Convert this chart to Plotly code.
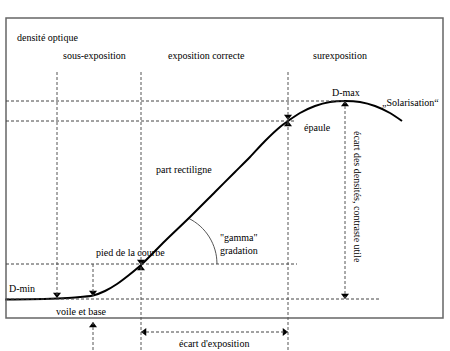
import plotly.graph_objects as go

# Characteristic curve (exposure -> optical density), diagram units
curve_x = [5, 30, 57, 75, 93, 105, 117, 129, 141, 165, 190, 215, 235, 250, 265, 280, 288, 300, 315, 330, 345, 360, 375, 390, 402]
curve_y = [299.5, 299.3, 298.5, 297.5, 295.5, 291, 284, 275, 265, 241, 217, 192, 172, 157, 141, 127, 121, 113, 106, 102, 101, 102, 106, 113, 121]

# Reference levels
frame = dict(x0=6, y0=18, x1=443, y1=318)
h_lines = [  # (y, x_start, x_end)
    (101, 6, 345),
    (121, 6, 296),
    (264, 6, 297),
    (299, 6, 380),
    (332, 141, 288),
]
v_lines = [  # (x, y_start, y_end)
    (57, 72, 298),
    (93, 264, 296),
    (93, 322, 351),
    (141, 72, 351),
    (288, 72, 351),
    (345, 101, 299),
]
# arrow tips: (x, y, direction)
arrows = [
    (57, 298, "down"), (93, 296, "down"), (93, 322, "up"),
    (141, 265, "down"), (141, 265, "up"),
    (288, 120, "down"), (288, 121, "up"),
    (345, 101, "up"), (345, 299, "down"),
    (141, 332, "left"), (288, 332, "right"),
]
# gamma arc
arc_center = (166, 264)
arc_radius = 51
arc_angles = [0, 8, 16, 24, 32, 40, 48, 56, 64]

labels = [  # (text, x, y, anchor, angle)
    ("densité optique", 15, 37, "left", 0),
    ("sous-exposition", 94, 55, "center", 0),
    ("exposition correcte", 206, 55, "center", 0),
    ("surexposition", 340, 55, "center", 0),
    ("D-max", 346, 92, "center", 0),
    ("„Solarisation“", 410, 102, "center", 0),
    ("épaule", 317, 127, "center", 0),
    ("part rectiligne", 184, 169, "center", 0),
    ("\"gamma\"", 239, 237, "center", 0),
    ("gradation", 239, 250, "center", 0),
    ("pied de la courbe", 130, 252, "center", 0),
    ("D-min", 22, 288, "center", 0),
    ("voile et base", 81, 311, "center", 0),
    ("écart d'exposition", 214, 343, "center", 0),
    ("écart des densités, contraste utile", 358, 197, "center", 90),
]

import math

fig = go.Figure()

DASH = "3px,2px"
shapes = []
shapes.append(dict(type="rect", xref="x", yref="y", **frame,
                   line=dict(color="#666", width=1.5)))
for y, xa, xb in h_lines:
    shapes.append(dict(type="line", xref="x", yref="y", x0=xa, x1=xb, y0=y, y1=y,
                       line=dict(color="#444", width=1, dash=DASH)))
for x, ya, yb in v_lines:
    shapes.append(dict(type="line", xref="x", yref="y", x0=x, x1=x, y0=ya, y1=yb,
                       line=dict(color="#555", width=1, dash=DASH)))

# gamma arc
ax_ = [arc_center[0] + arc_radius * math.cos(math.radians(a)) for a in arc_angles]
ay_ = [arc_center[1] - arc_radius * math.sin(math.radians(a)) for a in arc_angles]
fig.add_trace(go.Scatter(x=ax_, y=ay_, mode="lines", line=dict(color="#555", width=1, shape="spline"),
                         hoverinfo="skip"))

fig.add_trace(go.Scatter(x=curve_x, y=curve_y, mode="lines",
                         line=dict(color="black", width=2, shape="spline", smoothing=0.8),
                         hoverinfo="skip"))

# arrowheads
SIZE = 7
r = SIZE / 2
offs = {"down": (0, -r, "triangle-down"), "up": (0, r, "triangle-up"),
        "left": (r, 0, "triangle-left"), "right": (-r, 0, "triangle-right")}
mx, my, ms = [], [], []
for x, y, d in arrows:
    dx, dy, sym = offs[d]
    mx.append(x + dx)
    my.append(y + dy)
    ms.append(sym)
fig.add_trace(go.Scatter(x=mx, y=my, mode="markers",
                         marker=dict(symbol=ms, size=SIZE, color="black", line=dict(width=0)),
                         hoverinfo="skip"))

annotations = []
for text, x, y, anc, ang in labels:
    annotations.append(dict(text=text, x=x, y=y, xref="x", yref="y", showarrow=False,
                            xanchor=anc, yanchor="middle", textangle=ang,
                            font=dict(family="Liberation Serif", size=10, color="black")))

fig.update_layout(
    width=450, height=351, margin=dict(l=0, r=0, t=0, b=0),
    paper_bgcolor="white", plot_bgcolor="white", showlegend=False,
    xaxis=dict(range=[0, 450], visible=False, fixedrange=True),
    yaxis=dict(range=[351, 0], visible=False, fixedrange=True),
    shapes=shapes, annotations=annotations,
)
fig.write_html("out.html", config={"displayModeBar": False})
